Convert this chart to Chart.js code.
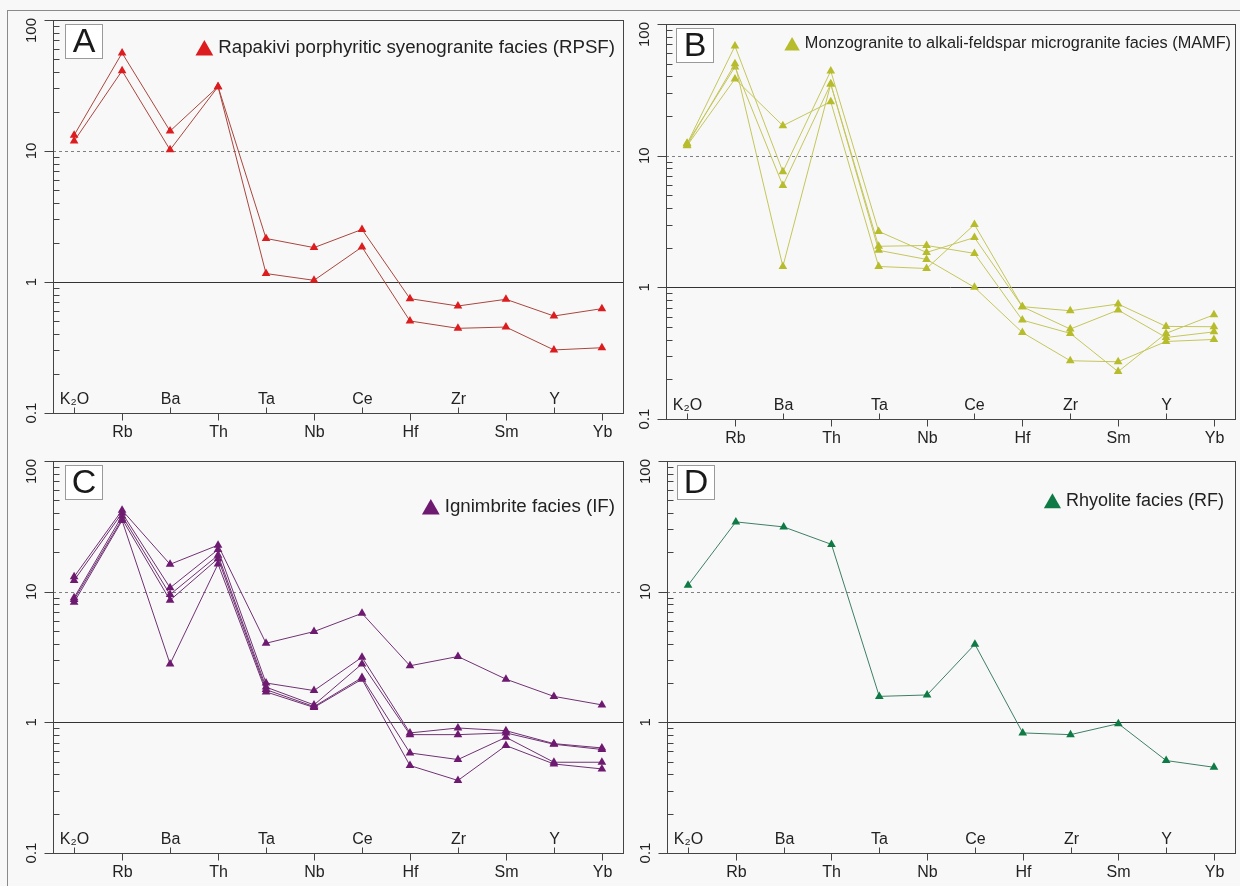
<!DOCTYPE html>
<html>
<head>
<meta charset="utf-8">
<script src="https://cdn.jsdelivr.net/npm/chart.js@4.4.1/dist/chart.umd.min.js"></script>
<style>
  html, body { margin: 0; padding: 0; background: #f8f8f8; }
  #page { position: relative; width: 1240px; height: 886px; overflow: hidden; background: #f8f8f8; }
  #frame { position: absolute; left: 7px; top: 10px; width: 1240px; height: 890px;
           border-left: 1px solid #8a8a8a; border-top: 1px solid #8a8a8a; }
  canvas { position: absolute; }
</style>
</head>
<body>
<div id="page">
  <div id="frame"></div>
  <canvas id="panelA" width="630" height="446" style="left:0;top:0"></canvas>
  <canvas id="panelB" width="610" height="452" style="left:630px;top:0"></canvas>
  <canvas id="panelC" width="630" height="446" style="left:0;top:440px"></canvas>
  <canvas id="panelD" width="610" height="446" style="left:630px;top:440px"></canvas>
</div>
<script>
// Primitive-mantle normalised multi-element patterns
const ELEMENTS = ['K₂O', 'Rb', 'Ba', 'Th', 'Ta', 'Nb', 'Ce', 'Hf', 'Zr', 'Sm', 'Y', 'Yb'];
const Y_TICKS = [0.1, 1, 10, 100];
const Y_TICK_LABELS = ['0.1', '1', '10', '100'];

// A: Rapakivi porphyritic syenogranite facies
const RPSF_1 = [13.2, 56, 14.2, 31, 2.15, 1.83, 2.52, 0.746, 0.656, 0.738, 0.55, 0.626];
const RPSF_2 = [11.9, 41, 10.2, 31, 1.16, 1.03, 1.85, 0.504, 0.443, 0.453, 0.303, 0.315];

// B: Monzogranite to alkali-feldspar microgranite facies
const MAMF_1 = [12.3, 68, 7.56, 44, 2.66, 1.84, 2.39, 0.713, 0.482, 0.672, 0.416, 0.459];
const MAMF_2 = [12.0, 49.8, 1.44, 35, 2.05, 2.08, 1.81, 0.564, 0.447, 0.229, 0.447, 0.619];
const MAMF_3 = [12.4, 47.2, 5.93, 35, 1.91, 1.63, 1.0, 0.454, 0.277, 0.272, 0.388, 0.402];
const MAMF_4 = [11.9, 38.3, 16.9, 25.7, 1.44, 1.39, 3.0, 0.713, 0.664, 0.747, 0.505, 0.502];

// C: Ignimbrite facies
const IF_1 = [13.0, 42, 16.2, 22.7, 4.03, 4.95, 6.83, 2.71, 3.19, 2.14, 1.58, 1.36];
const IF_2 = [12.2, 40, 10.7, 21.0, 2.0, 1.75, 3.15, 0.83, 0.905, 0.863, 0.687, 0.637];
const IF_3 = [9.0, 38, 9.5, 19.0, 1.86, 1.36, 2.8, 0.805, 0.805, 0.83, 0.68, 0.62];
const IF_4 = [8.7, 36, 8.6, 17.9, 1.78, 1.32, 2.2, 0.583, 0.519, 0.768, 0.495, 0.495];
const IF_5 = [8.3, 35, 2.8, 16.3, 1.71, 1.30, 2.14, 0.467, 0.359, 0.664, 0.48, 0.44];

// D: Rhyolite facies
const RF_1 = [11.2, 34.2, 31.3, 23, 1.58, 1.62, 3.96, 0.83, 0.805, 0.977, 0.51, 0.453];

const FONT = '"Liberation Sans", Arial, Helvetica, sans-serif';

// Axes, reference lines, element labels, panel letter and facies key
const spiderFrame = {
  id: 'spiderFrame',
  beforeDatasetsDraw(chart, args, o) {
    const { ctx, chartArea: a, scales: { y } } = chart;
    ctx.save();
    ctx.lineWidth = 1;
    const y10 = Math.round(y.getPixelForValue(10)) + 0.5;
    ctx.strokeStyle = '#808080';
    ctx.setLineDash([3, 3]);
    ctx.beginPath(); ctx.moveTo(a.left, y10); ctx.lineTo(a.right, y10); ctx.stroke();
    ctx.setLineDash([]);
    const y1 = Math.round(y.getPixelForValue(1)) + 0.5;
    ctx.strokeStyle = '#333333';
    ctx.beginPath(); ctx.moveTo(a.left, y1); ctx.lineTo(a.right, y1); ctx.stroke();
    ctx.restore();
  },
  afterDatasetsDraw(chart, args, o) {
    const { ctx, chartArea: a, scales: { x, y } } = chart;
    const L = Math.round(a.left) + 0.5, R = Math.round(a.right) + 0.5;
    const T = Math.round(a.top) + 0.5, B = Math.round(a.bottom) + 0.5;
    ctx.save();
    ctx.lineWidth = 1;
    ctx.strokeStyle = '#444444';
    ctx.strokeRect(L, T, R - L, B - T);

    // y axis: major ticks outward, minor ticks inward
    ctx.beginPath();
    Y_TICKS.forEach(v => {
      const py = Math.round(y.getPixelForValue(v)) + 0.5;
      ctx.moveTo(L - 9, py); ctx.lineTo(L, py);
    });
    [0.1, 1, 10].forEach(d => {
      for (let k = 2; k <= 9; k++) {
        const py = Math.round(y.getPixelForValue(d * k)) + 0.5;
        ctx.moveTo(L, py); ctx.lineTo(L + 6, py);
      }
    });
    ctx.stroke();

    ctx.fillStyle = '#222222';
    ctx.font = '15px ' + FONT;
    ctx.textBaseline = 'middle';
    Y_TICKS.forEach((v, i) => {
      const py = y.getPixelForValue(v);
      ctx.save();
      ctx.translate(a.left - 21, i === Y_TICKS.length - 1 ? a.top - 2 : py);
      ctx.rotate(-Math.PI / 2);
      ctx.textAlign = i === Y_TICKS.length - 1 ? 'right' : 'center';
      ctx.fillText(Y_TICK_LABELS[i], 0, 0);
      ctx.restore();
    });

    // x axis: element ticks alternate inside / outside
    ctx.font = '16px ' + FONT;
    ctx.textAlign = 'center';
    ctx.textBaseline = 'alphabetic';
    ctx.beginPath();
    ELEMENTS.forEach((el, i) => {
      const px = Math.round(x.getPixelForValue(i)) + 0.5;
      if (i % 2 === 0) {
        ctx.moveTo(px, B); ctx.lineTo(px, B - 6);
        ctx.fillText(el, px, B - 10);
      } else {
        ctx.moveTo(px, B); ctx.lineTo(px, B + 7);
        ctx.fillText(el, px, B + 23);
      }
    });
    ctx.stroke();

    // panel letter
    const bx = Math.round(a.left + o.letterDx) + 0.5, by = Math.round(a.top + 4) + 0.5;
    ctx.fillStyle = '#ffffff';
    ctx.fillRect(bx, by, 37, 34);
    ctx.strokeStyle = '#9a9a9a';
    ctx.strokeRect(bx, by, 37, 34);
    ctx.fillStyle = '#1a1a1a';
    ctx.font = '34px ' + FONT;
    ctx.textBaseline = 'middle';
    ctx.fillText(o.letter, bx + 18.5, by + 18);

    // facies key
    ctx.font = o.keySize + 'px ' + FONT;
    ctx.textAlign = 'left';
    const w = ctx.measureText(o.keyText).width;
    const tx = a.right - o.keyInset - w;
    const ty = a.top + o.keyDy;
    ctx.fillStyle = '#222222';
    ctx.fillText(o.keyText, tx, ty);
    const s = o.keySize * 0.95;
    const cx = tx - 5 - s / 2;
    ctx.fillStyle = o.markerColor;
    ctx.beginPath();
    ctx.moveTo(cx, ty - s * 0.45);
    ctx.lineTo(cx + s / 2, ty + s * 0.42);
    ctx.lineTo(cx - s / 2, ty + s * 0.42);
    ctx.closePath();
    ctx.fill();
    ctx.restore();
  }
};

function makePanel(id, padding, series, lineColor, markerColor, frame) {
  const datasets = series.map(values => ({
    data: values.map((v, i) => ({ x: i, y: v })),
    borderColor: lineColor,
    borderWidth: 1,
    backgroundColor: markerColor,
    pointBackgroundColor: markerColor,
    pointBorderColor: markerColor,
    pointBorderWidth: 0,
    pointStyle: 'triangle',
    pointRadius: 5,
    tension: 0,
    clip: false
  }));
  return new Chart(document.getElementById(id), {
    type: 'line',
    data: { datasets },
    options: {
      responsive: false,
      animation: false,
      layout: { padding },
      plugins: {
        legend: { display: false },
        tooltip: { enabled: false },
        spiderFrame: Object.assign({ markerColor }, frame)
      },
      scales: {
        x: { type: 'linear', min: -0.44, max: 11.44, display: false },
        y: { type: 'logarithmic', min: 0.1, max: 100, display: false }
      }
    },
    plugins: [spiderFrame]
  });
}

makePanel('panelA', { left: 53, top: 20, right: 7, bottom: 33 },
  [RPSF_1, RPSF_2], '#a8463e', '#dc1c1e',
  { letter: 'A', letterDx: 12, keyText: 'Rapakivi porphyritic syenogranite facies (RPSF)', keySize: 18.7, keyInset: 8, keyDy: 28 });

makePanel('panelB', { left: 36, top: 24, right: 3, bottom: 33 },
  [MAMF_1, MAMF_2, MAMF_3, MAMF_4], '#c4c65a', '#b7bc2c',
  { letter: 'B', letterDx: 10, keyText: 'Monzogranite to alkali-feldspar microgranite facies (MAMF)', keySize: 16.3, keyInset: 4, keyDy: 20 });

makePanel('panelC', { left: 53, top: 21, right: 7, bottom: 33 },
  [IF_1, IF_2, IF_3, IF_4, IF_5], '#6f3173', '#6e1a70',
  { letter: 'C', letterDx: 12, keyText: 'Ignimbrite facies (IF)', keySize: 18.7, keyInset: 8, keyDy: 46 });

makePanel('panelD', { left: 37, top: 21, right: 4, bottom: 33 },
  [RF_1], '#3d7f63', '#0f7a43',
  { letter: 'D', letterDx: 10, keyText: 'Rhyolite facies (RF)', keySize: 18, keyInset: 11, keyDy: 40 });
</script>
</body>
</html>
